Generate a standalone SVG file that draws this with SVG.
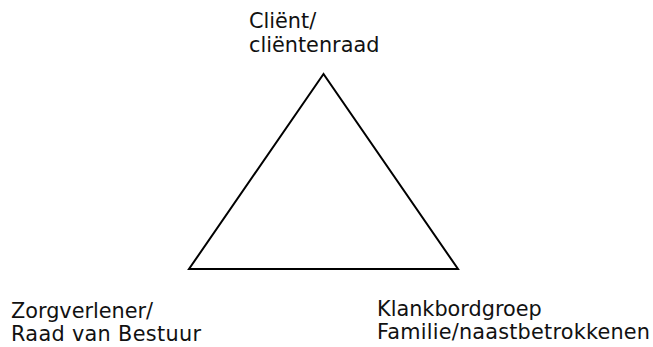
<svg xmlns="http://www.w3.org/2000/svg" width="653" height="347" viewBox="0 0 653 347">
<style>
.lbl{font-family:"DejaVu Sans",Verdana,sans-serif;font-size:20.8px;fill:#111}
.edge{fill:none;stroke:#000;stroke-width:2;stroke-linejoin:miter}
</style>
<rect width="653" height="347" fill="#fff"/>
<g id="connectors">
<polygon class="edge" points="323.5,74 189,269 458,269"/>
</g>
<g id="client">
<text class="lbl" x="249" y="28">Cliënt/</text>
<text class="lbl" x="249" y="52">cliëntenraad</text>
</g>
<g id="zorgverlener">
<text class="lbl" x="11" y="318">Zorgverlener/</text>
<text class="lbl" x="11" y="341" textLength="190" lengthAdjust="spacing">Raad van Bestuur</text>
</g>
<g id="klankbordgroep">
<text class="lbl" x="377" y="316">Klankbordgroep</text>
<text class="lbl" x="377" y="339" textLength="273" lengthAdjust="spacing">Familie/naastbetrokkenen</text>
</g>
</svg>
